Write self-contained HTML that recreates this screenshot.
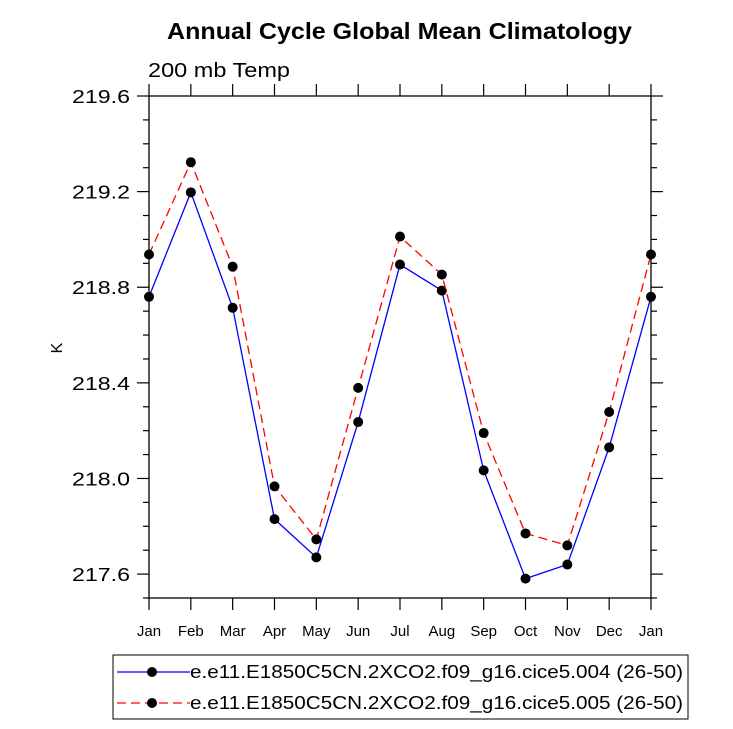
<!DOCTYPE html>
<html><head><meta charset="utf-8"><style>body{margin:0;background:#fff}svg{display:block;font-family:"Liberation Sans",sans-serif}</style></head>
<body>
<svg id="chart" width="733" height="729">
<text x="167" y="39" font-size="23" font-weight="bold" textLength="465" lengthAdjust="spacingAndGlyphs">Annual Cycle Global Mean Climatology</text>
<text x="148" y="77" font-size="20" textLength="142" lengthAdjust="spacingAndGlyphs">200 mb Temp</text>
<text x="62" y="348" font-size="16" text-anchor="middle" transform="rotate(-90 62 348)">K</text>
<g id="axes"></g><g id="series"></g>
<rect x="113" y="655" width="575" height="64" fill="none" stroke="#000" stroke-width="1"/>
<g>
<line x1="117" y1="672" x2="190" y2="672" stroke="#00f" stroke-width="1.2"/><circle cx="152" cy="672" r="5" fill="#000"/>
<text x="190" y="678" font-size="18" textLength="493" lengthAdjust="spacingAndGlyphs">e.e11.E1850C5CN.2XCO2.f09_g16.cice5.004 (26-50)</text></g>
<g>
<line x1="117" y1="703" x2="190" y2="703" stroke="#f00" stroke-width="1.2" stroke-dasharray="9,5"/><circle cx="152" cy="703" r="5" fill="#000"/>
<text x="190" y="709" font-size="18" textLength="493" lengthAdjust="spacingAndGlyphs">e.e11.E1850C5CN.2XCO2.f09_g16.cice5.005 (26-50)</text></g>
</svg>
<script>
const months=["Jan","Feb","Mar","Apr","May","Jun","Jul","Aug","Sep","Oct","Nov","Dec","Jan"];
const series004=[218.76,219.197,218.714,217.83,217.67,218.236,218.895,218.786,218.034,217.581,217.64,218.13,218.76];
const series005=[218.937,219.323,218.886,217.967,217.745,218.379,219.012,218.853,218.19,217.77,217.72,218.278,218.937];
const yTicks=["217.6","218.0","218.4","218.8","219.2","219.6"];
const NS="http://www.w3.org/2000/svg";
const L=149,R=651,T=96,B=598,ymin=217.5,ymax=219.6;
const xs=i=>L+i*(R-L)/12, ys=v=>B-(v-ymin)/(ymax-ymin)*(B-T);
function mk(t,a,p){const e=document.createElementNS(NS,t);for(const k in a)e.setAttribute(k,a[k]);p.appendChild(e);return e;}
const ax=document.getElementById('axes'),sg=document.getElementById('series');
const fr=mk('rect',{x:L,y:T,width:R-L,height:B-T,fill:'none',stroke:'#000','stroke-width':1.3},ax);


for(let v=217.5;v<=219.61;v+=0.1){const y=ys(v);const r=Math.round(v*10)%4;const maj=r===0;const len=maj?12:6;
mk('line',{x1:L-len,y1:y,x2:L,y2:y,stroke:'#000','stroke-width':1.2},ax);mk('line',{x1:R,y1:y,x2:R+len,y2:y,stroke:'#000','stroke-width':1.2},ax);}
yTicks.forEach(s=>{const t=mk('text',{x:L-19,y:ys(+s)+7,'text-anchor':'end','font-size':18,textLength:58,lengthAdjust:'spacingAndGlyphs'},ax);t.textContent=s;

});
months.forEach((m,i)=>{const x=xs(i);mk('line',{x1:x,y1:B,x2:x,y2:B+12,stroke:'#000','stroke-width':1.2},ax);mk('line',{x1:x,y1:T-12,x2:x,y2:T,stroke:'#000','stroke-width':1.2},ax);
const t=mk('text',{x:x,y:B+38,'text-anchor':'middle','font-size':15},ax);t.textContent=m;

});
function draw(d,col,dash,name){const g=mk('g',{},sg);


const a={points:d.map((v,i)=>xs(i)+','+ys(v)).join(' '),fill:'none',stroke:col,'stroke-width':1.3};if(dash)a['stroke-dasharray']=dash;mk('polyline',a,g);
d.forEach((v,i)=>{const c=mk('circle',{cx:xs(i),cy:ys(v),r:5,fill:'#000'},g);

});}
draw(series004,'#00f',null,'series-004');
draw(series005,'#f00','9,5','series-005');
</script>
</body></html>
